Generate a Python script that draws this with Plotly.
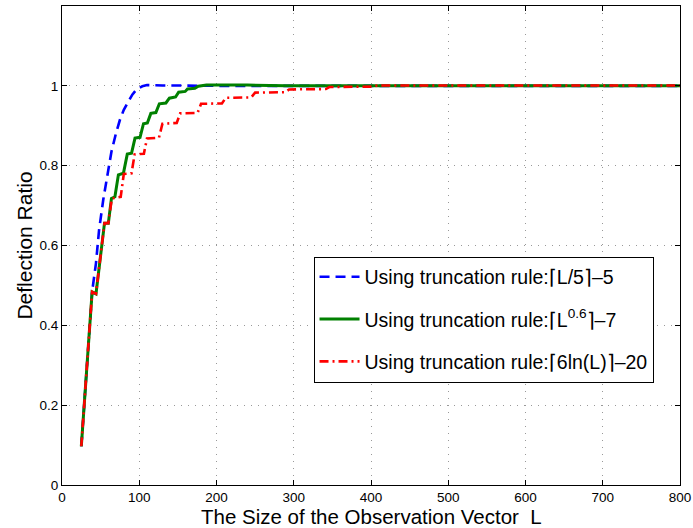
import plotly.graph_objects as go

# Observation vector size L and resulting deflection ratio for each truncation rule
L_blue = [25, 30, 35, 39, 44, 48, 53.5, 59, 64, 70, 75, 80, 86, 91, 97, 104, 110, 130, 200, 800]
ratio_blue = [0.097, 0.245, 0.37, 0.484, 0.556, 0.639, 0.716, 0.78, 0.835, 0.882, 0.915,
              0.94, 0.961, 0.978, 0.992, 0.999, 1.002, 1.001, 1.0, 1.0]

L_green = [25, 30, 35, 39, 44, 55, 60, 64, 68.5, 73, 79.5, 84.5, 90, 94.5, 101, 105.5,
           110.5, 115, 121.5, 126, 134.5, 139, 147, 151, 159.5, 162.5, 172, 176.5,
           187, 240, 290, 800]
ratio_green = [0.097, 0.245, 0.37, 0.484, 0.479, 0.656, 0.656, 0.718, 0.722, 0.777, 0.781,
               0.829, 0.831, 0.869, 0.871, 0.905, 0.907, 0.931, 0.933, 0.955, 0.957,
               0.969, 0.972, 0.984, 0.986, 0.992, 0.994, 0.999, 1.002, 1.002, 1.0, 1.0]

L_red = [25, 30, 35, 39, 44, 55, 60, 64.5, 76, 80, 90, 94, 106, 110, 125.5, 130, 148.5,
         153, 175.5, 180, 207, 212, 245, 250, 289, 294, 341.5, 346, 403, 408, 800]
ratio_red = [0.097, 0.245, 0.37, 0.484, 0.479, 0.656, 0.656, 0.718, 0.722, 0.779, 0.781,
             0.828, 0.830, 0.868, 0.870, 0.905, 0.907, 0.931, 0.932, 0.955, 0.956, 0.970,
             0.971, 0.983, 0.984, 0.991, 0.992, 0.997, 0.998, 1.001, 1.001]

names = [
    "Using truncation rule:\u2308L/5\u2309\u20135",
    "Using truncation rule:\u2308L<sup>0.6</sup>\u2309\u20137",
    "Using truncation rule:\u23086ln(L)\u2309\u201320",
]

x_title = "The Size of the Observation Vector  L"
y_title = "Deflection Ratio"

x_ticks = [0, 100, 200, 300, 400, 500, 600, 700, 800]
y_ticks = [0, 0.2, 0.4, 0.6, 0.8, 1]
y_tick_labels = ["0", "0.2", "0.4", "0.6", "0.8", "1"]

FONT = "Liberation Sans, Arial, Helvetica, sans-serif"

fig = go.Figure()
fig.add_trace(go.Scatter(x=L_blue, y=ratio_blue, mode="lines", name=names[0],
                         legendgroup="a",
                         line=dict(color="#0000ff", width=2.6, dash="10px,6px")))
fig.add_trace(go.Scatter(x=L_green, y=ratio_green, mode="lines", name=names[1],
                         legendgroup="b",
                         line=dict(color="#008000", width=3)))
fig.add_trace(go.Scatter(x=L_red, y=ratio_red, mode="lines", name=names[2],
                         legendgroup="c",
                         line=dict(color="#ff0000", width=2.6, dash="9px,4px,2px,4px")))

axis_common = dict(
    showline=True, linecolor="black", linewidth=1.2, mirror="ticks",
    ticks="inside", ticklen=5, tickcolor="black", tickwidth=1,
    showgrid=True, gridcolor="#999999", gridwidth=1, griddash="1px,6px",
    zeroline=False, tickfont=dict(family=FONT, size=13.5, color="black"),
    automargin=False,
)

fig.update_xaxes(range=[0, 800], tickvals=x_ticks, **axis_common)
fig.update_yaxes(range=[0, 1.2], tickvals=y_ticks, ticktext=y_tick_labels, **axis_common,
                 title=dict(text=y_title,
                            font=dict(family=FONT, size=21, color="black"),
                            standoff=1))

# x-axis title placed as a paper annotation just under the tick labels
fig.add_annotation(text=x_title, xref="paper", yref="paper", x=0.5, y=-0.0665,
                   xanchor="center", yanchor="middle", showarrow=False,
                   font=dict(family=FONT, size=20.5, color="black"))

fig.update_layout(
    width=693, height=528,
    margin=dict(l=62, r=13, t=6, b=43),
    paper_bgcolor="white", plot_bgcolor="white",
    font=dict(family=FONT, color="black"),
    showlegend=True,
    legend=dict(x=0.407, y=0.477, xanchor="left", yanchor="top",
                bgcolor="white", bordercolor="black", borderwidth=1,
                font=dict(family=FONT, size=19.5, color="black"),
                tracegroupgap=14, itemwidth=40),
)

fig.write_html("out.html")
